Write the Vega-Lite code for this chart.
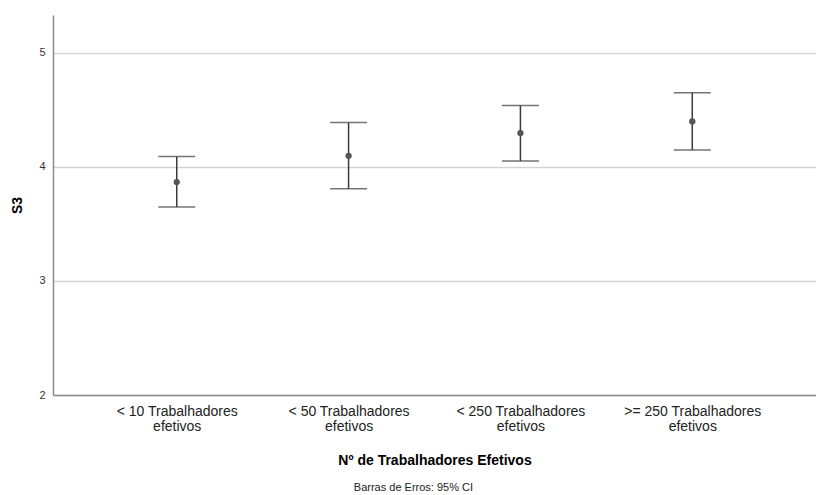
{
  "$schema": "https://vega.github.io/schema/vega-lite/v6.json",
  "autosize": "none",
  "width": 763,
  "height": 380,
  "padding": {"left": 53, "top": 15, "right": 0, "bottom": 100},
  "background": "white",
  "config": {
    "view": {"stroke": null},
    "font": "Liberation Sans"
  },
  "title": {
    "text": "Barras de Erros: 95% CI",
    "orient": "bottom",
    "anchor": "middle",
    "frame": "bounds",
    "fontSize": 11,
    "fontWeight": "normal",
    "font": "Liberation Sans",
    "color": "#222222",
    "offset": 15
  },
  "data": {
    "values": [
      {"grupo": "< 10 Trabalhadores efetivos", "media": 3.866, "inf": 3.648, "sup": 4.089},
      {"grupo": "< 50 Trabalhadores efetivos", "media": 4.096, "inf": 3.807, "sup": 4.388},
      {"grupo": "< 250 Trabalhadores efetivos", "media": 4.295, "inf": 4.05, "sup": 4.537},
      {"grupo": ">= 250 Trabalhadores efetivos", "media": 4.397, "inf": 4.146, "sup": 4.648}
    ]
  },
  "encoding": {
    "x": {
      "field": "grupo",
      "type": "nominal",
      "sort": null,
      "scale": {"type": "point", "padding": 0.72},
      "axis": {
        "title": "Nº de Trabalhadores Efetivos",
        "titleFontSize": 14,
        "titleFontWeight": "bold",
        "titleColor": "#000000",
        "titlePadding": 20,
        "labelAngle": 0,
        "labelFontSize": 14,
        "labelColor": "#222222",
        "labelLineHeight": 15,
        "labelPadding": 9,
        "labelExpr": "[replace(datum.label, ' efetivos', ''), 'efetivos']",
        "ticks": false,
        "grid": false,
        "domainColor": "#8c8c8c",
        "domainWidth": 1.5
      }
    }
  },
  "layer": [
    {
      "mark": {"type": "rule", "color": "#3a3a3a", "strokeWidth": 1.5},
      "encoding": {
        "y": {
          "field": "inf",
          "type": "quantitative",
          "scale": {"domain": [2, 5.33], "nice": false, "zero": false},
          "axis": {
            "title": "S3",
            "titleFontSize": 14,
            "titleFontWeight": "bold",
            "titleColor": "#000000",
            "titlePadding": 14,
            "values": [2, 3, 4, 5],
            "format": "d",
            "labelFontSize": 11,
            "labelColor": "#333333",
            "labelPadding": 8,
            "ticks": false,
            "grid": true,
            "gridColor": "#d4d4d4",
            "gridWidth": 1.5,
            "domainColor": "#8c8c8c",
            "domainWidth": 1.5
          }
        },
        "y2": {"field": "sup"}
      }
    },
    {
      "mark": {"type": "tick", "orient": "horizontal", "color": "#3a3a3a", "size": 37, "thickness": 1.5},
      "encoding": {"y": {"field": "inf", "type": "quantitative"}}
    },
    {
      "mark": {"type": "tick", "orient": "horizontal", "color": "#3a3a3a", "size": 37, "thickness": 1.5},
      "encoding": {"y": {"field": "sup", "type": "quantitative"}}
    },
    {
      "mark": {"type": "point", "filled": true, "shape": "circle", "size": 40, "color": "#555555", "opacity": 1},
      "encoding": {"y": {"field": "media", "type": "quantitative"}}
    }
  ]
}
